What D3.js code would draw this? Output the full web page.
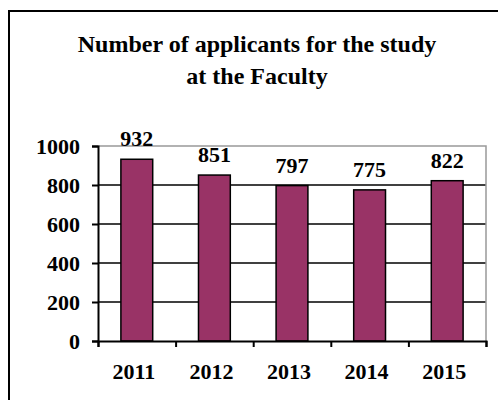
<!DOCTYPE html>
<html>
<head>
<meta charset="utf-8">
<script src="https://cdn.jsdelivr.net/npm/d3@7"></script>
<style>
  body { margin: 0; background: #fff; }
  svg text { font-family: "Liberation Serif", "Times New Roman", serif; font-weight: bold; fill: #000; }
</style>
</head>
<body>
<div id="chart"></div>
<script>
var width = 498;
var height = 400;

var years = ["2011", "2012", "2013", "2014", "2015"];
var applicants = [932, 851, 797, 775, 822];
var yTicks = [0, 200, 400, 600, 800, 1000];
var titleLines = ["Number of applicants for the study", "at the Faculty"];

var plotLeft = 98, plotRight = 486, plotTop = 146, plotBottom = 341;

var svg = d3.select("#chart").append("svg").attr("width", width).attr("height", height);

// outer frame (only left and top edges fall inside the picture)
svg.append("path").attr("d", "M9,400V11H498").attr("fill", "none").attr("stroke", "#000").attr("stroke-width", 2);

svg.selectAll("text.title").data(titleLines).enter().append("text")
    .attr("class", "title")
    .attr("x", 257).attr("y", function(d, i) { return 52 + i * 32; })
    .attr("text-anchor", "middle").style("font-size", "24px")
    .text(function(d) { return d; });

var x = d3.scaleBand().domain(years).range([plotLeft, plotRight]).paddingInner(0.59).paddingOuter(0.295);
var y = d3.scaleLinear().domain([0, 1000]).range([plotBottom, plotTop]);
var edges = d3.scaleLinear().domain([0, years.length]).range([plotLeft, plotRight]);

// gridlines
svg.append("g").selectAll("line").data(yTicks.filter(function(d) { return d > 0 && d < 1000; })).enter().append("line")
    .attr("x1", plotLeft).attr("x2", plotRight)
    .attr("y1", function(d) { return y(d); }).attr("y2", function(d) { return y(d); })
    .attr("stroke", "#000").attr("stroke-width", 1.5);

// plot area border (top/right)
svg.append("path").attr("d", "M" + plotLeft + "," + y(1000) + "H" + plotRight + "V" + plotBottom)
    .attr("fill", "none").attr("stroke", "#999").attr("stroke-width", 1.5);

svg.append("g").selectAll("rect").data(applicants).enter().append("rect")
    .attr("x", function(d, i) { return x(years[i]); })
    .attr("y", function(d) { return y(d); })
    .attr("width", x.bandwidth())
    .attr("height", function(d) { return y(0) - y(d); })
    .attr("fill", "#993366").attr("stroke", "#000").attr("stroke-width", 1.5);

svg.append("g").selectAll("text").data(applicants).enter().append("text")
    .attr("x", function(d, i) { return x(years[i]) + x.bandwidth() / 2; })
    .attr("y", function(d) { return y(d) - 13; })
    .attr("text-anchor", "middle").style("font-size", "22px")
    .text(function(d) { return d; });

var yAxis = svg.append("g").attr("transform", "translate(" + plotLeft + ",0)")
    .call(d3.axisLeft(y).tickValues(yTicks).tickSize(6).tickPadding(12).tickFormat(d3.format("d")));
yAxis.selectAll("text").style("font-size", "22px").attr("dy", "0.34em");

var xAxis = svg.append("g").attr("transform", "translate(-3," + plotBottom + ")")
    .call(d3.axisBottom(x).tickSize(0).tickPadding(22));
xAxis.select(".domain").remove();
xAxis.selectAll("text").style("font-size", "22px").attr("dy", "0.71em");

svg.append("g").attr("transform", "translate(0," + plotBottom + ")")
    .call(d3.axisBottom(edges).tickValues(d3.range(years.length + 1)).tickSize(6).tickFormat(""));

svg.selectAll(".domain, .tick line").attr("stroke", "#000").attr("stroke-width", 2);
</script>
</body>
</html>
